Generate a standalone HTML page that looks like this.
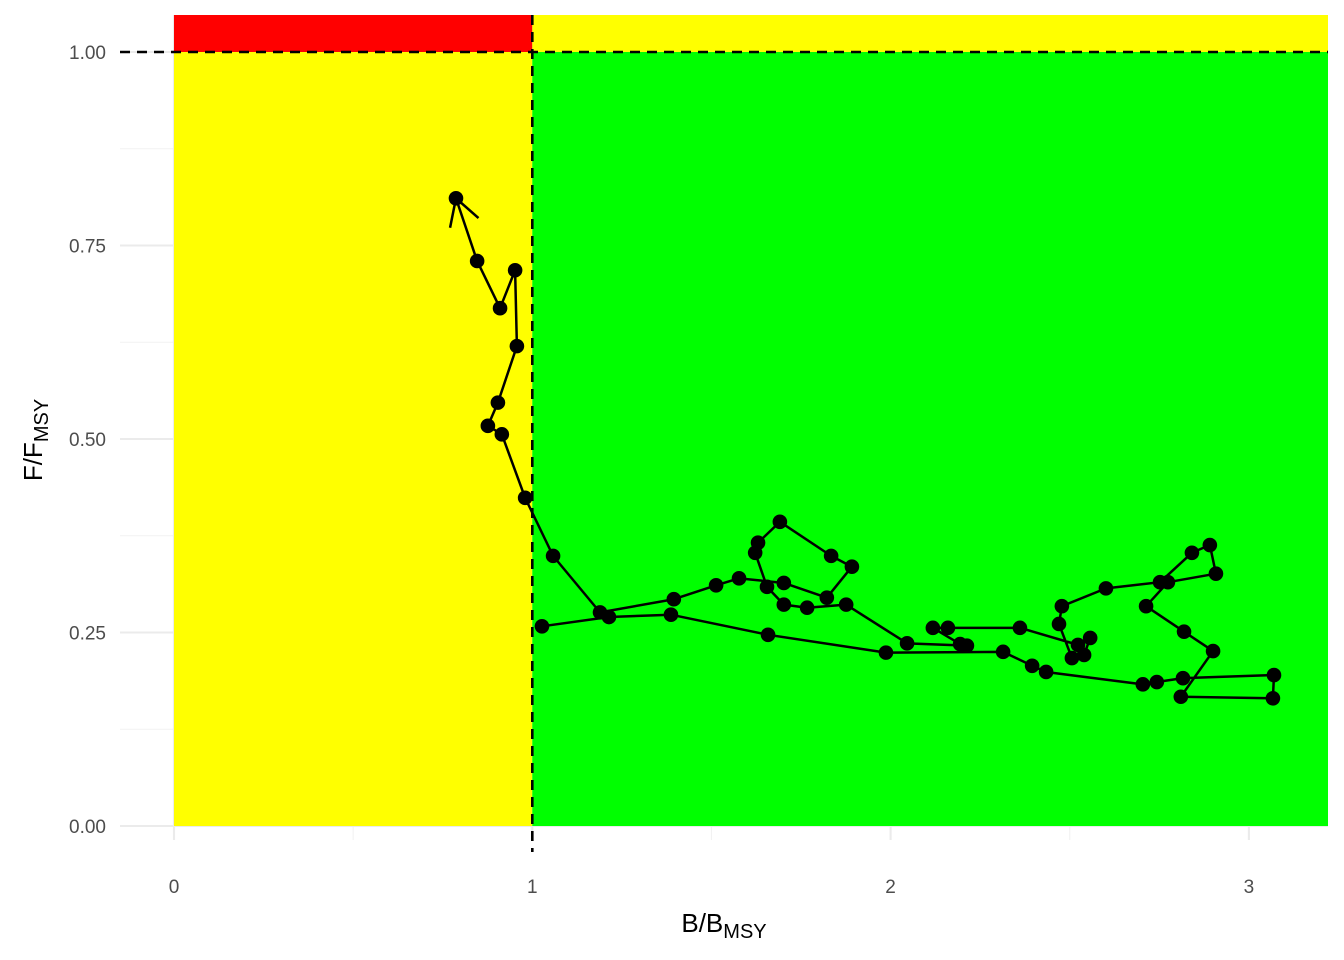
<!DOCTYPE html>
<html><head><meta charset="utf-8">
<style>
html,body{margin:0;padding:0;background:#fff;}
svg{display:block;font-family:"Liberation Sans",sans-serif;}
</style></head>
<body>
<svg id="chart" width="1344" height="960" viewBox="0 0 1344 960" xmlns="http://www.w3.org/2000/svg">
<g id="grid"></g>
<g id="quads"></g>
<g id="refs"></g>
<g id="series"></g>
<g id="axes"></g>
<text x="724" y="932" text-anchor="middle" font-size="26" fill="#000">B/B<tspan font-size="20" dy="6">MSY</tspan></text>
<text transform="translate(42,440) rotate(-90)" text-anchor="middle" font-size="26" fill="#000">F/F<tspan font-size="20" dy="6">MSY</tspan></text>
</svg>
<script>
const bRatio = [1.027,1.214,1.387,1.658,1.987,2.314,2.395,2.434,2.704,2.743,2.816,3.070,3.067,2.810,2.900,2.819,2.713,2.774,2.908,2.891,2.841,2.752,2.601,2.478,2.470,2.506,2.540,2.557,2.523,2.361,2.160,2.118,2.194,2.213,2.046,1.876,1.767,1.702,1.655,1.622,1.630,1.691,1.834,1.892,1.822,1.702,1.577,1.513,1.395,1.189,1.058,0.980,0.915,0.876,0.904,0.957,0.952,0.910,0.846,0.787];
const fRatio = [0.258,0.270,0.273,0.247,0.224,0.225,0.207,0.199,0.183,0.186,0.191,0.195,0.165,0.167,0.226,0.251,0.284,0.315,0.326,0.363,0.353,0.315,0.307,0.284,0.261,0.217,0.221,0.243,0.234,0.256,0.256,0.256,0.235,0.233,0.236,0.286,0.282,0.286,0.309,0.353,0.366,0.393,0.349,0.335,0.295,0.314,0.320,0.311,0.293,0.276,0.349,0.424,0.506,0.517,0.547,0.620,0.718,0.669,0.730,0.811];
const xTicks = [0,1,2,3];
const xTickLabels = ["0","1","2","3"];
const yTicks = [0,0.25,0.5,0.75,1];
const yTickLabels = ["0.00","0.25","0.50","0.75","1.00"];
const xMinor = [0.5,1.5,2.5];
const yMinor = [0.125,0.375,0.625,0.875];
const bRef = 1, fRef = 1;

const NS="http://www.w3.org/2000/svg";
const X0=174, XS=358.3, Y0=826, YS=774;
const L=120, R=1328, T=15, B=840;
const sx=v=>X0+v*XS, sy=v=>Y0-v*YS;
function mk(tag,attrs,parent){const e=document.createElementNS(NS,tag);for(const k in attrs)e.setAttribute(k,attrs[k]);parent.appendChild(e);return e;}
const grid=document.getElementById('grid'),quads=document.getElementById('quads'),refs=document.getElementById('refs'),series=document.getElementById('series'),axes=document.getElementById('axes');

xMinor.forEach(v=>{const l=mk('line',{x1:sx(v),x2:sx(v),y1:T,y2:B,stroke:'#f2f2f2','stroke-width':1.1},grid);

});
yMinor.forEach(v=>{const l=mk('line',{x1:L,x2:R,y1:sy(v),y2:sy(v),stroke:'#f2f2f2','stroke-width':1.1},grid);

});
xTicks.forEach((v,i)=>{const l=mk('line',{x1:sx(v),x2:sx(v),y1:T,y2:B,stroke:'#ebebeb','stroke-width':2.1},grid);


const t=mk('text',{x:sx(v),y:893,'text-anchor':'middle','font-size':19,fill:'#4d4d4d'},axes);t.textContent=xTickLabels[i];

});
yTicks.forEach((v,i)=>{const l=mk('line',{x1:L,x2:R,y1:sy(v),y2:sy(v),stroke:'#ebebeb','stroke-width':2.1},grid);


const t=mk('text',{x:106,y:sy(v)+7,'text-anchor':'end','font-size':19,fill:'#4d4d4d'},axes);t.textContent=yTickLabels[i];

});

const xmaxV=(R-X0)/XS, ymaxV=(Y0-T)/YS;
const qd=[[0,bRef,fRef,ymaxV,'#ff0000','overfished-overfishing-zone'],[bRef,xmaxV,fRef,ymaxV,'#ffff00','overfishing-zone'],[0,bRef,0,fRef,'#ffff00','overfished-zone'],[bRef,xmaxV,0,fRef,'#00ff00','healthy-zone']];
qd.forEach(q=>{const r=mk('rect',{x:sx(q[0]),y:sy(q[3]),width:sx(q[1])-sx(q[0]),height:sy(q[2])-sy(q[3]),fill:q[4]},quads);

});

const h=mk('line',{x1:L,x2:R,y1:sy(fRef),y2:sy(fRef),stroke:'#000','stroke-width':2.6,'stroke-dasharray':'10,7'},refs);


const vl=mk('line',{x1:sx(bRef),x2:sx(bRef),y1:T,y2:852,stroke:'#000','stroke-width':2.6,'stroke-dasharray':'10,7'},refs);



const pts=bRatio.map((b,i)=>[sx(b),sy(fRatio[i])]);
const pl=mk('polyline',{points:pts.map(p=>p.join(',')).join(' '),fill:'none',stroke:'#000','stroke-width':2.5,'stroke-linejoin':'round'},series);


pts.forEach(p=>{const c=mk('circle',{cx:p[0],cy:p[1],r:7.3,fill:'#000'},series);

});
const n=pts.length,e=pts[n-1],s=pts[n-2];
const ang=Math.atan2(s[1]-e[1],s[0]-e[0]),len=30,hw=Math.PI/6;
const ah=mk('path',{d:`M${e[0]+len*Math.cos(ang-hw)},${e[1]+len*Math.sin(ang-hw)} L${e[0]},${e[1]} L${e[0]+len*Math.cos(ang+hw)},${e[1]+len*Math.sin(ang+hw)}`,fill:'none',stroke:'#000','stroke-width':2.5},series);


</script>
</body></html>
